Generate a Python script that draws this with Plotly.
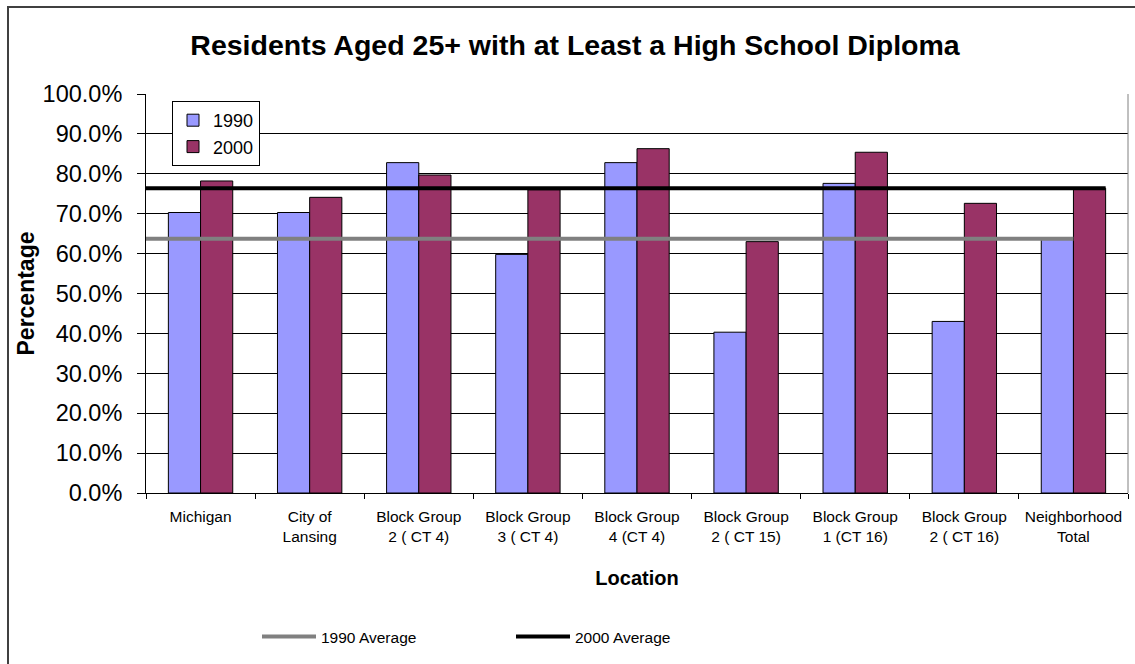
import plotly.graph_objects as go

# Educational attainment by location (share of residents aged 25+)
locations = [
    "Michigan", "City of<br>Lansing", "Block Group<br>2 ( CT 4)", "Block Group<br>3 ( CT 4)",
    "Block Group<br>4 (CT 4)", "Block Group<br>2 ( CT 15)", "Block Group<br>1 (CT 16)",
    "Block Group<br>2 ( CT 16)", "Neighborhood<br>Total",
]
pct_1990 = [70.3, 70.3, 82.8, 59.8, 82.8, 40.3, 77.6, 43.0, 63.7]
pct_2000 = [78.2, 74.1, 79.7, 76.0, 86.3, 63.0, 85.4, 72.6, 76.4]
avg_1990 = 63.7
avg_2000 = 76.4
y_ticks = [0, 10, 20, 30, 40, 50, 60, 70, 80, 90, 100]

COLOR_1990 = "#9999FF"
COLOR_2000 = "#993366"
FONT = "Liberation Sans, Arial, sans-serif"

n = len(locations)
xpos = list(range(n))
bargap = 0.41
bar_w = (1 - bargap) / 2

# plot-area geometry in pixels
W, H = 1135, 664
ml, mr, mt, mb = 146, 7, 94, 171
pw, ph = W - ml - mr, H - mt - mb

fig = go.Figure()
fig.add_trace(go.Bar(
    x=xpos, y=pct_1990, name="1990", marker=dict(color=COLOR_1990, line=dict(color="black", width=1)),
    legend="legend",
))
fig.add_trace(go.Bar(
    x=xpos, y=pct_2000, name="2000", marker=dict(color=COLOR_2000, line=dict(color="black", width=1)),
    legend="legend",
))

# average reference lines: 1990 ends at the last 1990 bar, 2000 at the last 2000 bar
x_start = -0.5
x_end_1990 = (n - 1)
x_end_2000 = (n - 1) + bar_w
fig.add_trace(go.Scatter(
    x=[x_start, x_end_1990], y=[avg_1990, avg_1990], mode="lines", name="1990 Average",
    line=dict(color="#808080", width=4), legend="legend2",
))
fig.add_trace(go.Scatter(
    x=[x_start, x_end_2000], y=[avg_2000, avg_2000], mode="lines", name="2000 Average",
    line=dict(color="black", width=4), legend="legend2",
))

def px_x(p):
    return (p - ml) / pw

def px_y(p):
    return (H - mb - p) / ph

fig.update_layout(
    width=W, height=H,
    margin=dict(l=ml, r=mr, t=mt, b=mb),
    paper_bgcolor="white", plot_bgcolor="white",
    font=dict(family=FONT, color="black"),
    barmode="group", bargap=bargap, bargroupgap=0,
    title=dict(
        text="<b>Residents Aged 25+ with at Least a High School Diploma</b>",
        font=dict(size=28.5, family=FONT, color="black"),
        x=575 / W, xanchor="center", y=1 - 45 / H, yanchor="middle",
    ),
    xaxis=dict(
        range=[-0.5, n - 0.5], tickmode="array", tickvals=xpos, ticktext=locations,
        ticks="", showgrid=False, zeroline=False,
        showline=True, linecolor="black", linewidth=1,
        tickfont=dict(size=15.5, family=FONT), ticklabelstandoff=9,
        minor=dict(tickmode="array", tickvals=[i - 0.5 for i in range(n + 1)],
                   ticks="outside", ticklen=5, tickcolor="black", showgrid=False),
        title=dict(text="<b>Location</b>", font=dict(size=20, family=FONT), standoff=27),
    ),
    yaxis=dict(
        range=[0, 100], tickmode="array", tickvals=y_ticks,
        ticktext=[f"{v:.1f}%" for v in y_ticks],
        ticks="outside", ticklen=8, tickcolor="black",
        showgrid=True, gridcolor="black", gridwidth=1, zeroline=False,
        showline=True, linecolor="black", linewidth=1,
        tickfont=dict(size=23.5, family=FONT), ticklabelstandoff=10,
        title=dict(text="<b>Percentage</b>", font=dict(size=23, family=FONT), standoff=1),
    ),
    legend=dict(
        x=px_x(172), y=px_y(101), xanchor="left", yanchor="top",
        bgcolor="white", bordercolor="black", borderwidth=1,
        font=dict(size=18, family=FONT), itemwidth=30, tracegroupgap=0,
    ),
    legend2=dict(
        orientation="h", x=px_x(257), y=px_y(620), xanchor="left", yanchor="top",
        bgcolor="rgba(0,0,0,0)", font=dict(size=15.5, family=FONT),
        entrywidth=185, itemwidth=54,
    ),
    shapes=[
        # right edge of plot area
        dict(type="line", xref="paper", yref="paper", x0=1, x1=1, y0=0, y1=1,
             line=dict(color="#808080", width=1)),
        # chart frame
        dict(type="rect", xref="paper", yref="paper",
             x0=px_x(8), x1=px_x(W + 10), y0=px_y(H + 10), y1=px_y(7),
             line=dict(color="#404040", width=2), layer="below"),
    ],
)

fig.write_html("out.html")
